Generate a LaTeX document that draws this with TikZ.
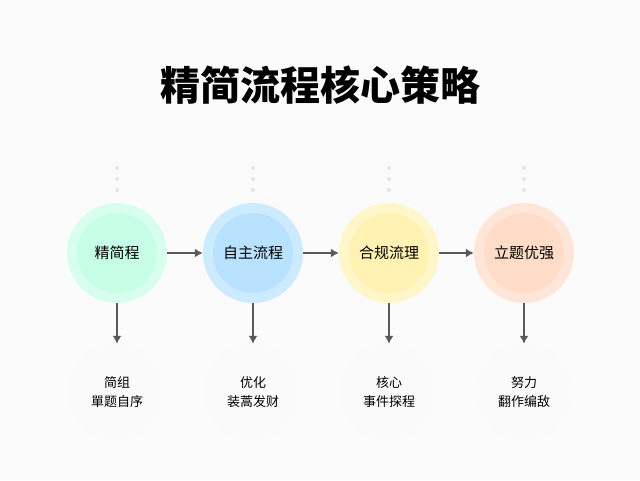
\documentclass[tikz,border=0pt]{standalone}
\usepackage{fontspec}
\setmainfont{Noto Sans CJK SC}
\usetikzlibrary{arrows.meta}
\colorlet{cA}{green!45!cyan!22}
\colorlet{cB}{blue!40!cyan!28}
\colorlet{cC}{orange!35!yellow!30}
\colorlet{cD}{red!25!orange!22}
\begin{document}
\begin{tikzpicture}[x=1pt,y=-1pt,
  main/.style={circle,minimum size=100pt,inner sep=0pt},
  sub/.style={circle,minimum size=96pt,inner sep=0pt,fill=gray!4,align=center,font=\fontsize{13}{19}\selectfont},
  arr/.style={draw=black!65,line width=2.5pt,-{Latex[length=8pt,width=9pt]}},
  dot/.style={circle,fill=gray!20,minimum size=4pt,inner sep=0pt}]
\fill[white!97!gray] (0,0) rectangle (640,480);
\useasboundingbox (0,0) rectangle (640,480);
\node[font=\fontsize{40}{46}\selectfont\bfseries] (title) at (320,85) {精简流程核心策略};
\foreach \i/\x/\c/\t/\s in {1/117/cA/精简程/{简组\\單题自序},
  2/253/cB/自主流程/{优化\\装蒿发财},
  3/389/cC/合规流理/{核心\\事件探程},
  4/524/cD/立题优强/{努力\\翻作编敌}}{
  \node[main,fill=\c!70!white] (m\i) at (\x,253) {};
  \node[circle,minimum size=80pt,fill=\c] at (\x,253) {};
  \node[font=\fontsize{15}{17}\selectfont] at (\x,253) {\t};
  \node[sub] (s\i) at (\x,392) {\s};
  \node[dot] (d\i a) at (\x,168) {};
  \node[dot] (d\i b) at (\x,179) {};
  \node[dot] (d\i c) at (\x,190) {};
  \draw[arr] (m\i) -- (s\i);
}
\draw[arr] (m1) -- (m2);
\draw[arr] (m2) -- (m3);
\draw[arr] (m3) -- (m4);
\end{tikzpicture}
\end{document}
